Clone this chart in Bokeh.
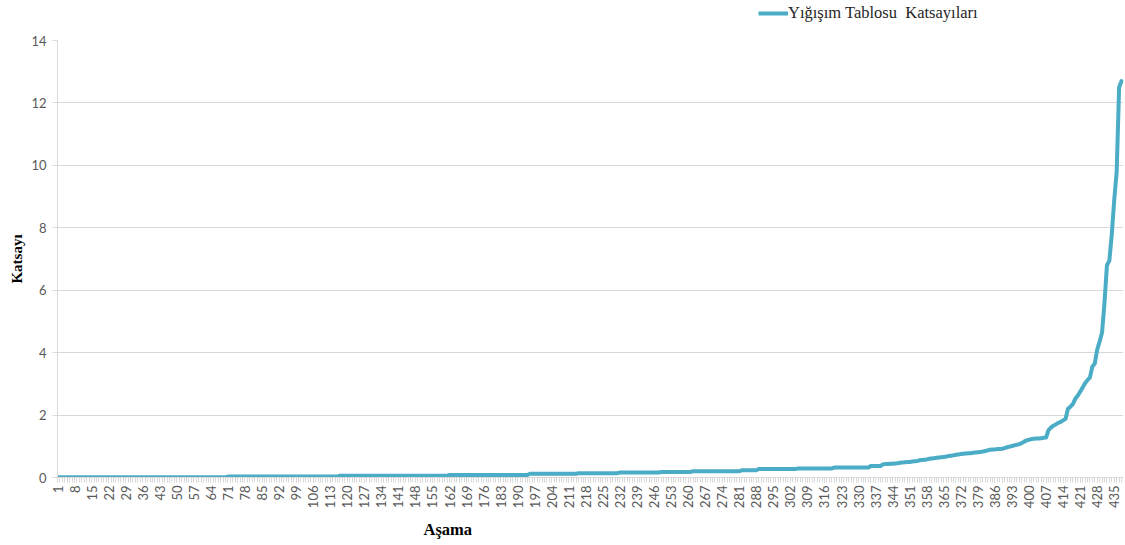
import math
from bokeh.plotting import figure
from bokeh.layouts import column
from bokeh.models import (ColumnDataSource, Legend, LegendItem, FixedTicker,
                          Range1d, Title)
from bokeh.embed import file_html
from bokeh.resources import INLINE

# ---------------- data ----------------
series_name = "Yığışım Tablosu  Katsayıları"
x_title = "Aşama"
y_title = "Katsayı"

values = [
    # 1-70
    0.01, 0.01, 0.01, 0.01, 0.01, 0.01, 0.01, 0.01, 0.01, 0.01,
    0.01, 0.01, 0.01, 0.01, 0.01, 0.01, 0.01, 0.01, 0.01, 0.01,
    0.01, 0.01, 0.01, 0.01, 0.01, 0.01, 0.01, 0.01, 0.01, 0.01,
    0.01, 0.01, 0.01, 0.01, 0.01, 0.01, 0.01, 0.01, 0.01, 0.01,
    0.01, 0.01, 0.01, 0.01, 0.01, 0.01, 0.01, 0.01, 0.01, 0.01,
    0.01, 0.01, 0.01, 0.01, 0.01, 0.01, 0.01, 0.01, 0.01, 0.01,
    0.01, 0.01, 0.01, 0.01, 0.01, 0.01, 0.01, 0.01, 0.01, 0.01,
    # 71-116
    0.03, 0.03, 0.03, 0.03, 0.03, 0.03, 0.03, 0.03, 0.03, 0.03,
    0.03, 0.03, 0.03, 0.03, 0.03, 0.03, 0.03, 0.03, 0.03, 0.03,
    0.03, 0.03, 0.03, 0.03, 0.03, 0.03, 0.03, 0.03, 0.03, 0.03,
    0.03, 0.03, 0.03, 0.03, 0.03, 0.03, 0.03, 0.03, 0.03, 0.03,
    0.03, 0.03, 0.03, 0.03, 0.03, 0.03,
    # 117-161
    0.06, 0.06, 0.06, 0.06, 0.06, 0.06, 0.06, 0.06, 0.06, 0.06,
    0.06, 0.06, 0.06, 0.06, 0.06, 0.06, 0.06, 0.06, 0.06, 0.06,
    0.06, 0.06, 0.06, 0.06, 0.06, 0.06, 0.06, 0.06, 0.06, 0.06,
    0.06, 0.06, 0.06, 0.06, 0.06, 0.06, 0.06, 0.06, 0.06, 0.06,
    0.06, 0.06, 0.06, 0.06, 0.06,
    # 162-194
    0.08, 0.08, 0.08, 0.08, 0.08, 0.08, 0.08, 0.08, 0.08, 0.08,
    0.08, 0.08, 0.08, 0.08, 0.08, 0.08, 0.08, 0.08, 0.08, 0.08,
    0.08, 0.08, 0.08, 0.08, 0.08, 0.08, 0.08, 0.08, 0.08, 0.08,
    0.08, 0.08, 0.08,
    # 195-214
    0.12, 0.12, 0.12, 0.12, 0.12, 0.12, 0.12, 0.12, 0.12, 0.12,
    0.12, 0.12, 0.12, 0.12, 0.12, 0.12, 0.12, 0.12, 0.12, 0.12,
    # 215-231
    0.14, 0.14, 0.14, 0.14, 0.14, 0.14, 0.14, 0.14, 0.14, 0.14,
    0.14, 0.14, 0.14, 0.14, 0.14, 0.14, 0.14,
    # 232-248
    0.16, 0.16, 0.16, 0.16, 0.16, 0.16, 0.16, 0.16, 0.16, 0.16,
    0.16, 0.16, 0.16, 0.16, 0.16, 0.16, 0.16,
    # 249-261
    0.18, 0.18, 0.18, 0.18, 0.18, 0.18, 0.18, 0.18, 0.18, 0.18,
    0.18, 0.18, 0.18,
    # 262-281
    0.2, 0.2, 0.2, 0.2, 0.2, 0.2, 0.2, 0.2, 0.2, 0.2,
    0.2, 0.2, 0.2, 0.2, 0.2, 0.2, 0.2, 0.2, 0.2, 0.2,
    # 282-288
    0.23, 0.23, 0.23, 0.23, 0.23, 0.23, 0.23,
    # 289-304
    0.27, 0.27, 0.27, 0.27, 0.27, 0.27, 0.27, 0.27, 0.27, 0.27,
    0.27, 0.27, 0.27, 0.27, 0.27, 0.27,
    # 305-319
    0.29, 0.29, 0.29, 0.29, 0.29, 0.29, 0.29, 0.29, 0.29, 0.29,
    0.29, 0.29, 0.29, 0.29, 0.29,
    # 320-334
    0.32, 0.32, 0.32, 0.32, 0.32, 0.32, 0.32, 0.32, 0.32, 0.32,
    0.32, 0.32, 0.32, 0.32, 0.32,
    # 335-339
    0.37, 0.37, 0.37, 0.37, 0.37,
    # 340-346
    0.42, 0.43, 0.43, 0.44, 0.44, 0.45, 0.46,
    # 347-438
    0.47, 0.48, 0.49, 0.5, 0.5, 0.51, 0.52, 0.53, 0.55, 0.56,
    0.57, 0.58, 0.6, 0.61, 0.62, 0.63, 0.64, 0.65, 0.66, 0.67,
    0.69, 0.7, 0.71, 0.73, 0.74, 0.75, 0.76, 0.77, 0.78, 0.78,
    0.79, 0.8, 0.81, 0.82, 0.83, 0.85, 0.87, 0.89, 0.9, 0.9,
    0.91, 0.91, 0.92, 0.94, 0.97, 0.99, 1.01, 1.03, 1.05, 1.07,
    1.1, 1.15, 1.19, 1.21, 1.23, 1.24, 1.25, 1.25, 1.26, 1.27,
    1.28, 1.52, 1.6, 1.66, 1.7, 1.75, 1.78, 1.83, 1.88, 2.2,
    2.27, 2.35, 2.52, 2.62, 2.75, 2.88, 3.02, 3.12, 3.2, 3.55,
    3.65, 4.1, 4.35, 4.65, 5.6, 6.8, 6.95, 7.8, 8.9, 9.8,
    12.5, 12.7,
]
stages = list(range(1, len(values) + 1))
x_tick_values = list(range(1, 436, 7))
y_tick_values = [0, 2, 4, 6, 8, 10, 12, 14]

# ---------------- styling ----------------
LINE_COLOR = "#4bacc6"
GRID_COLOR = "#d9d9d9"
TICK_TEXT = "#595959"

# ---- top strip that carries the legend ----
top = figure(
    frame_width=1125, frame_height=30,
    min_border_left=0, min_border_right=0, min_border_top=0, min_border_bottom=0,
    x_range=Range1d(0, 1125), y_range=Range1d(0, 30),
    output_backend="svg", toolbar_location=None,
    background_fill_color="white", border_fill_color="white",
)
top.outline_line_color = None
top.axis.visible = False
top.grid.visible = False
# off-screen line: only its legend swatch is visible
swatch = top.line(x=[-50, -40], y=[-50, -50], line_color=LINE_COLOR, line_width=4)
legend = Legend(
    items=[LegendItem(label=series_name, renderers=[swatch])],
    location=(758, 7),
    orientation="horizontal",
    glyph_width=30, glyph_height=14, label_height=14,
    label_standoff=0, padding=0, margin=0, spacing=0,
    label_text_font="Liberation Serif", label_text_font_size="16.5px",
    label_text_color="#262626",
    border_line_color=None, background_fill_alpha=0,
)
top.add_layout(legend)

# ---- main chart ----
source = ColumnDataSource(dict(x=stages, y=values))

p = figure(
    frame_width=1066, frame_height=437,
    min_border_left=57, min_border_right=2, min_border_top=10, min_border_bottom=68,
    x_range=Range1d(1, 438.8), y_range=Range1d(0, 14),
    output_backend="svg", toolbar_location=None,
    background_fill_color="white", border_fill_color="white",
)
p.outline_line_color = None

p.line("x", "y", source=source, line_color=LINE_COLOR, line_width=4,
       line_join="round", line_cap="round")

# axes
p.xaxis.ticker = FixedTicker(ticks=x_tick_values, minor_ticks=stages)
p.xaxis.major_label_orientation = math.pi / 2
p.xaxis.major_label_text_font = "Lato"
p.xaxis.major_label_text_font_size = "13px"
p.xaxis.major_label_text_color = TICK_TEXT
p.xaxis.major_label_standoff = 3
p.xaxis.axis_line_color = GRID_COLOR
p.xaxis.major_tick_line_color = GRID_COLOR
p.xaxis.minor_tick_line_color = GRID_COLOR
p.xaxis.major_tick_in = 0
p.xaxis.major_tick_out = 5
p.xaxis.minor_tick_in = 0
p.xaxis.minor_tick_out = 5

p.yaxis.ticker = FixedTicker(ticks=y_tick_values)
p.yaxis.major_label_text_font = "Lato"
p.yaxis.major_label_text_font_size = "13px"
p.yaxis.major_label_text_color = TICK_TEXT
p.yaxis.major_label_standoff = 6
p.yaxis.axis_line_color = GRID_COLOR
p.yaxis.major_tick_line_color = GRID_COLOR
p.yaxis.major_tick_in = 0
p.yaxis.major_tick_out = 5
p.yaxis.minor_tick_line_color = None
p.yaxis.axis_label = y_title
p.yaxis.axis_label_text_font = "Liberation Serif"
p.yaxis.axis_label_text_font_style = "bold"
p.yaxis.axis_label_text_font_size = "15px"
p.yaxis.axis_label_text_color = "black"
p.yaxis.axis_label_standoff = 3

p.xgrid.grid_line_color = None
p.ygrid.grid_line_color = GRID_COLOR
p.ygrid.grid_line_width = 1

# x-axis title (off-centre, as in the reference)
p.add_layout(Title(text=x_title, align="left", offset=366, standoff=12,
                   text_font="Liberation Serif", text_font_style="bold",
                   text_font_size="16.5px", text_color="black"), "below")

layout = column(top, p, spacing=0)
open("out.html", "w").write(file_html(layout, INLINE))
